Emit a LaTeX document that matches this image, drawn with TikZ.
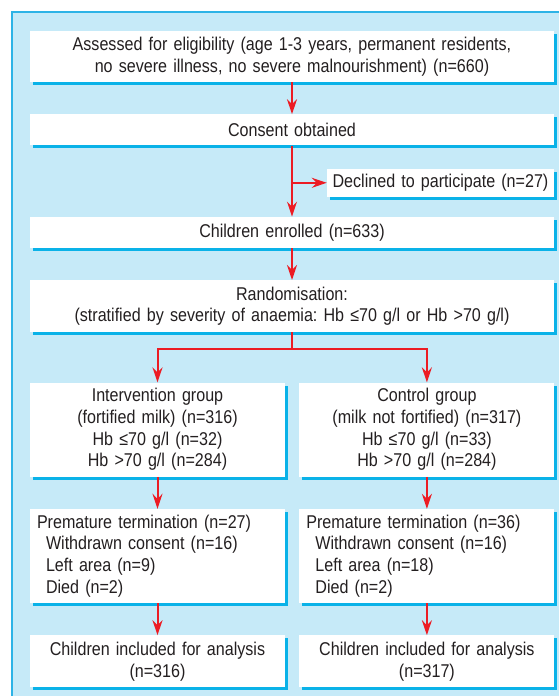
\documentclass[tikz,border=0pt]{standalone}
\usepackage{fontspec}
\setmainfont[FakeStretch=0.87]{Liberation Sans}
\frenchspacing
\usetikzlibrary{positioning,arrows.meta,shadows}
\definecolor{panelblue}{HTML}{C6EAF8}
\definecolor{edgeblue}{HTML}{2DB3E6}
\definecolor{shadeblue}{HTML}{0AB2E8}
\definecolor{flowred}{HTML}{EC1C24}
\definecolor{inktext}{HTML}{231F20}
\tikzstyle{block} = [rectangle, fill=white, text=inktext, align=center, inner sep=0pt, drop shadow={shadow xshift=3pt, shadow yshift=-3pt, fill=shadeblue, opacity=1}]
\tikzstyle{flow} = [draw=flowred, line width=2pt, -{Stealth[length=15pt,width=10pt,inset=5pt]}]

\begin{document}
\begin{tikzpicture}[x=1pt, y=1pt, font=\fontsize{18.5}{21.7}\selectfont]
   \useasboundingbox (0,0) rectangle (558,-696);
   % panel
   \fill[panelblue] (11,-12) rectangle (580,-720);
   \draw[edgeblue, line width=2pt] (12,-720) -- (12,-12) -- (580,-12);
   % boxes
   \node[block, text width=524pt, minimum height=51pt] (elig) at (292,-56.5)
      {Assessed for eligibility (age 1-3 years, permanent residents,\\no severe illness, no severe malnourishment) (n=660)};
   \node[block, text width=524pt, minimum height=31pt, below=32pt of elig] (consent) {Consent obtained};
   \node[block, text width=227pt, minimum height=28pt, below left=23pt and 0pt of consent.south east] (declined) {Declined to participate (n=27)};
   \node[block, text width=524pt, minimum height=31pt, below=71pt of consent] (enrolled) {Children enrolled (n=633)};
   \node[block, text width=524pt, minimum height=52pt, below=32pt of enrolled] (random)
      {Randomisation:\\(stratified by severity of anaemia: Hb ≤70 g/l or Hb >70 g/l)};
   \node[block, text width=255pt, minimum height=94pt, below=50pt of random.south west, anchor=north west] (interv)
      {Intervention group\\(fortified milk) (n=316)\\Hb ≤70 g/l (n=32)\\Hb >70 g/l (n=284)};
   \node[block, text width=255pt, minimum height=94pt, right=14pt of interv] (control)
      {Control group\\(milk not fortified) (n=317)\\Hb ≤70 g/l (n=33)\\Hb >70 g/l (n=284)};
   \node[block, text width=241pt, inner xsep=7pt, align=left, minimum height=94pt, below=32pt of interv] (premL)
      {Premature termination (n=27)\\\hspace*{9pt}Withdrawn consent (n=16)\\\hspace*{9pt}Left area (n=9)\\\hspace*{9pt}Died (n=2)};
   \node[block, text width=241pt, inner xsep=7pt, align=left, minimum height=94pt, below=32pt of control] (premR)
      {Premature termination (n=36)\\\hspace*{9pt}Withdrawn consent (n=16)\\\hspace*{9pt}Left area (n=18)\\\hspace*{9pt}Died (n=2)};
   \node[block, text width=255pt, minimum height=52pt, below=32pt of premL] (inclL) {Children included for analysis\\(n=316)};
   \node[block, text width=255pt, minimum height=52pt, below=32pt of premR] (inclR) {Children included for analysis\\(n=317)};
   % connectors
   \coordinate (branch) at (consent.south |- declined.west);
   \coordinate (split) at ([yshift=-17pt]random.south);
   \draw[flow] (elig) -- (consent);
   \draw[flow] (consent) -- (enrolled);
   \draw[flow] (branch) -- (declined);
   \draw[flow] (enrolled) -- (random);
   \draw[flow] (random.south) -- (split) -| (interv.north);
   \draw[flow] (split) -| (control.north);
   \draw[flow] (interv) -- (premL);
   \draw[flow] (control) -- (premR);
   \draw[flow] (premL) -- (inclL);
   \draw[flow] (premR) -- (inclR);
\end{tikzpicture}
\end{document}
